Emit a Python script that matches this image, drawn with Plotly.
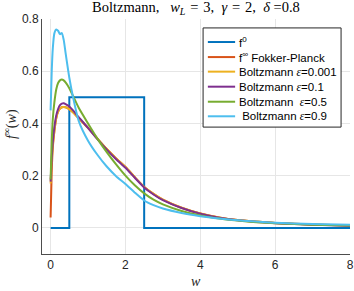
import plotly.graph_objects as go

# f0: uniform initial datum
w_f0 = [0.0, 0.5, 0.5, 2.5, 2.5, 8.0]
f0_vals = [0.0, 0.0, 0.5, 0.5, 0.0, 0.0]

w = [0.0, 0.03, 0.06, 0.1, 0.15, 0.2, 0.25, 0.3, 0.35, 0.4, 0.5, 0.6, 0.75,
     1.0, 1.25, 1.5, 1.75, 2.0, 2.25, 2.5, 2.75, 3.0, 3.5, 4.0, 4.5, 5.0,
     5.5, 6.0, 7.0, 8.0]

fp_vals = [0.04, 0.22, 0.31, 0.37, 0.42, 0.445, 0.457, 0.462, 0.463, 0.462, 0.455, 0.443, 0.42,
           0.383, 0.342, 0.302, 0.266, 0.233, 0.194, 0.157, 0.13, 0.108, 0.077, 0.055, 0.04, 0.03,
           0.024, 0.019, 0.013, 0.009]
b0001_vals = [0.17, 0.26, 0.32, 0.37, 0.42, 0.445, 0.457, 0.462, 0.463, 0.462, 0.455, 0.443, 0.42,
              0.383, 0.342, 0.302, 0.266, 0.233, 0.194, 0.157, 0.13, 0.108, 0.077, 0.055, 0.04, 0.03,
              0.024, 0.019, 0.013, 0.009]
b01_vals = [0.177, 0.27, 0.33, 0.385, 0.43, 0.455, 0.47, 0.476, 0.477, 0.474, 0.465, 0.45, 0.424,
            0.383, 0.34, 0.3, 0.263, 0.23, 0.192, 0.155, 0.128, 0.106, 0.076, 0.054, 0.039, 0.029,
            0.023, 0.018, 0.012, 0.008]
b05_vals = [0.185, 0.33, 0.42, 0.48, 0.53, 0.555, 0.565, 0.568, 0.565, 0.557, 0.535, 0.505, 0.46,
            0.4, 0.342, 0.29, 0.243, 0.2, 0.163, 0.132, 0.108, 0.09, 0.065, 0.048, 0.036, 0.028,
            0.022, 0.018, 0.012, 0.009]
b09_vals = [0.45, 0.6, 0.69, 0.745, 0.76, 0.755, 0.742, 0.746, 0.72, 0.67, 0.575, 0.5, 0.41,
            0.334, 0.28, 0.235, 0.198, 0.168, 0.135, 0.105, 0.087, 0.074, 0.057, 0.045, 0.036, 0.029,
            0.024, 0.02, 0.015, 0.012]

x_ticks = [0, 2, 4, 6, 8]
y_ticks = [0, 0.2, 0.4, 0.6, 0.8]
y_ticktext = ["0", "0.2", "0.4", "0.6", "0.8"]

eps = "<span style='font-family:Liberation Serif'><i>ε</i></span>"
names = ["f<sup>0</sup>", "f<sup>∞</sup> Fokker-Planck",
         "Boltzmann " + eps + "=0.001", "Boltzmann " + eps + "=0.1",
         "Boltzmann  " + eps + "=0.5", " Boltzmann " + eps + "=0.9"]
colors = ["#0072BD", "#D95319", "#EDB120", "#7E2F8E", "#77AC30", "#4DBEEE"]

fig = go.Figure()
fig.add_trace(go.Scatter(x=w_f0, y=f0_vals, mode="lines", name=names[0],
                         line=dict(color=colors[0], width=2)))
series = [fp_vals, b0001_vals, b01_vals, b05_vals, b09_vals]
for i, s in enumerate(series):
    fig.add_trace(go.Scatter(x=w, y=s, mode="lines", name=names[i + 1],
                             line=dict(color=colors[i + 1], width=2, shape="spline", smoothing=0.6)))

axis_common = dict(showgrid=True, gridcolor="#E6E6E6", gridwidth=1, zeroline=False,
                   showline=True, linecolor="#4D4D4D", linewidth=1, automargin=False,
                   ticks="", tickfont=dict(family="Liberation Sans, Arial", size=12, color="#262626"))

# ---- legend (drawn by hand to match the compact MATLAB legend) ----
L, R, T, B = 0.523, 0.971, 0.962, 0.540
shapes = [dict(type="rect", xref="paper", yref="paper", x0=L, x1=R, y0=B, y1=T,
               line=dict(color="#262626", width=1), fillcolor="white", layer="above")]
annotations = []
row_y = [0.902, 0.838, 0.776, 0.712, 0.648, 0.586]
for i, (nm, c) in enumerate(zip(names, colors)):
    shapes.append(dict(type="line", xref="paper", yref="paper", x0=0.5385, x1=0.627,
                       y0=row_y[i], y1=row_y[i], line=dict(color=c, width=2), layer="above"))
    annotations.append(dict(text=nm, xref="paper", yref="paper", x=0.632, y=row_y[i],
                            xanchor="left", yanchor="middle", showarrow=False,
                            font=dict(family="Liberation Sans, Arial", size=11.5, color="#000")))

annotations.append(dict(text="<i>w</i>", xref="paper", yref="paper", x=0.5, y=-0.118,
                        xanchor="center", yanchor="middle", showarrow=False,
                        font=dict(family="Liberation Serif", size=14, color="#262626")))
annotations.append(dict(text="<i>f</i><sup>∞</sup>(<i>w</i>)", xref="paper", yref="paper",
                        x=-0.104, y=0.553, xanchor="center", yanchor="middle", showarrow=False,
                        textangle=-90,
                        font=dict(family="Liberation Serif", size=14, color="#262626")))

title_text = ("Boltzmann,\u2002\u2005<i>w<sub>L</sub></i>\u2004=\u20043,\u2002"
              "<i>γ</i>\u2004=\u20042,\u2002<i>δ</i>\u2005=0.8")

fig.update_layout(
    width=354, height=291,
    margin=dict(l=42, r=4, t=19, b=37),
    paper_bgcolor="white", plot_bgcolor="white",
    title=dict(text=title_text,
               x=0.5535, xanchor="center", y=0.994, yanchor="top",
               font=dict(family="Liberation Serif, Times New Roman", size=14.5, color="#000")),
    xaxis=dict(range=[-0.23, 8], tickvals=x_ticks, **axis_common),
    yaxis=dict(range=[-0.1, 0.8], tickvals=y_ticks, ticktext=y_ticktext, **axis_common),
    shapes=shapes,
    annotations=annotations,
    showlegend=False,
)

fig.write_html("out.html", config={"displayModeBar": False},
               post_script="document.body.style.margin='0px';")
